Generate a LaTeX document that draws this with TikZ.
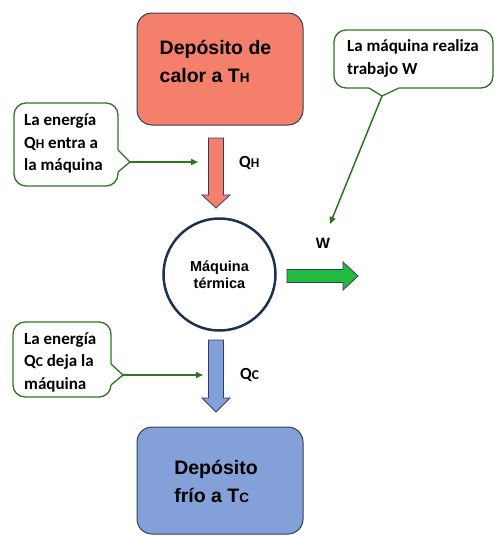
\documentclass[tikz,border=0pt]{standalone}
\usepackage{fontspec}
\setmainfont{Liberation Sans}
\newfontfamily\calfont{Carlito}
\usetikzlibrary{arrows.meta}
\definecolor{salmon}{HTML}{F47F6B}
\definecolor{coldblue}{HTML}{84A0D8}
\definecolor{boxline}{HTML}{2F3F5F}
\definecolor{navy}{HTML}{1F3050}
\definecolor{cgreen}{HTML}{2D7521}
\definecolor{wgreen}{HTML}{22BB40}
\tikzset{
  resbox/.style={draw=boxline, line width=1pt, rounded corners=15pt, minimum width=166pt},
  restext/.style={align=left, inner sep=0pt, font=\fontsize{19.5}{28}\selectfont\bfseries},
  calloutbox/.style={draw=cgreen, line width=1.3pt, fill=white, rounded corners=12pt},
  callouttext/.style={align=left, inner sep=0pt, anchor=west, font=\calfont\bfseries\fontsize{17}{22.5}\selectfont},
  greenline/.style={draw=cgreen, line width=1.5pt, -{Triangle[length=7pt,width=6pt]}},
  blockarrow/.style={draw=boxline, line width=0.8pt, line join=miter},
  qlabel/.style={inner sep=0pt, anchor=west, font=\calfont\bfseries\fontsize{17}{17}\selectfont},
}
\newcommand{\smallsub}[1]{{\fontsize{13.5}{13.5}\selectfont #1}}
\begin{document}
\begin{tikzpicture}[x=1pt,y=-1pt]
\useasboundingbox (0,0) rectangle (494,536);

% reservoirs
\node[resbox, fill=salmon, minimum height=112pt] (hot) at (220,69) {};
\node[restext] (hottext) at (215.5,61) {Depósito de\\calor a T\smallsub{H}};
\node[resbox, fill=coldblue, minimum height=107pt] (cold) at (220,480.5) {};
\node[restext] (coldtext) at (216,481) {Depósito\\frío a T\smallsub{C}};

% engine
\node[circle, draw=navy, line width=2.5pt, minimum size=112pt, inner sep=0pt,
      align=center, font=\fontsize{14.5}{18.5}\selectfont\bfseries] (eng) at (219.5,274.5) {Máquina\\[-1pt]térmica};

% block arrows
\draw[blockarrow, fill=salmon] (208.5,138) -- (223.5,138) -- (223.5,195) -- (230,195) -- (216,208) -- (202,195) -- (208.5,195) -- cycle;
\draw[blockarrow, fill=coldblue] (208.5,340) -- (223.5,340) -- (223.5,398) -- (230,398) -- (216,412) -- (202,398) -- (208.5,398) -- cycle;
\draw[blockarrow, fill=wgreen] (287,269.5) -- (343,269.5) -- (343,262) -- (358,276) -- (343,290) -- (343,282.5) -- (287,282.5) -- cycle;

\node[qlabel] (qh) at (239,163) {Q\smallsub{H}};
\node[qlabel] (qc) at (240,375) {Q\smallsub{C}};
\node[inner sep=0pt, font=\fontsize{15}{15}\selectfont\bfseries] (w) at (323,243) {W};

% callout 1 (Q_H)
\draw[calloutbox] (14,103) rectangle (118,186);
\fill[white] (116,150) -- (118,150) -- (130,162) -- (118,172) -- (116,172) -- cycle;
\draw[draw=cgreen, line width=1.3pt, line join=round] (118,150) -- (130,162) -- (118,172);
\coordinate (c1tip) at (130,162);
\coordinate (c1end) at (198,162);
\node[callouttext] (c1text) at (24,143.5) {La energía\\Q\smallsub{H} entra a\\la máquina};
\draw[greenline] (c1tip) -- (c1end);

% callout 2 (W)
\draw[calloutbox] (334,30) rectangle (493,88);
\fill[white] (369,86) -- (369,88) -- (382,96) -- (399,88) -- (399,86) -- cycle;
\draw[draw=cgreen, line width=1.3pt, line join=round] (369,88) -- (382,96) -- (399,88);
\coordinate (c2tip) at (382,96);
\coordinate (c2end) at (330,224);
\node[callouttext] (c2text) at (347,58.5) {La máquina realiza\\trabajo W};
\draw[greenline] (c2tip) -- (c2end);

% callout 3 (Q_C)
\draw[calloutbox] (13,322) rectangle (111,397);
\fill[white] (109,364) -- (111,364) -- (123,375) -- (111,385) -- (109,385) -- cycle;
\draw[draw=cgreen, line width=1.3pt, line join=round] (111,364) -- (123,375) -- (111,385);
\coordinate (c3tip) at (123,375);
\coordinate (c3end) at (203,375);
\node[callouttext] (c3text) at (24,362) {La energía\\Q\smallsub{C} deja la\\máquina};
\draw[greenline] (c3tip) -- (c3end);
\end{tikzpicture}
\end{document}
